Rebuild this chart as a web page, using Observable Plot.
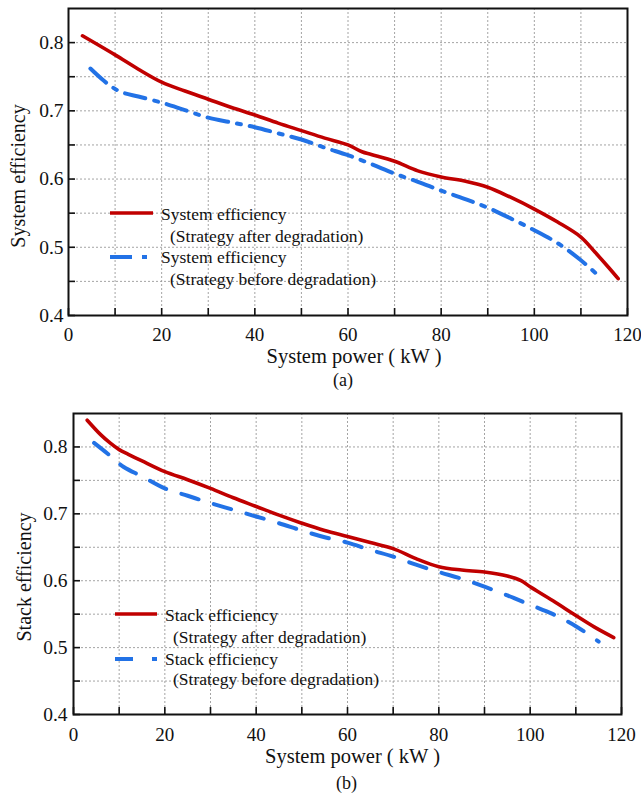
<!DOCTYPE html>
<html><head><meta charset="utf-8">
<script src="https://cdn.jsdelivr.net/npm/d3@7"></script>
<script src="https://cdn.jsdelivr.net/npm/@observablehq/plot@0.6"></script>
<style>
body{margin:0;background:#fff;}
#wrap{position:relative;width:641px;height:801px;overflow:hidden;font-family:"Liberation Serif","Times New Roman",serif;background:#fff;}
.panel{position:absolute;left:0;}
.lg{position:absolute;font-size:17.5px;line-height:1;white-space:nowrap;color:#111;}
.lgl{position:absolute;}
</style></head><body><div id="wrap"></div>
<script>
// ---- Data ----
// Panel (a): system efficiency vs system power (kW)
const sysAfterX  = [3, 10, 15, 20, 25, 30, 35, 40, 45, 50, 55, 60, 63, 65, 70, 75, 80, 85, 90, 95, 100, 105, 110, 113, 116, 118];
const sysAfterY  = [0.810, 0.782, 0.761, 0.742, 0.729, 0.717, 0.705, 0.694, 0.682, 0.671, 0.660, 0.650, 0.640, 0.636, 0.626, 0.612, 0.603, 0.597, 0.588, 0.573, 0.556, 0.537, 0.515, 0.493, 0.470, 0.454];
const sysBeforeX = [4.7, 7.6, 10, 12, 15, 20, 25, 30, 35, 40, 45, 50, 55, 60, 65, 70, 75, 80, 85, 90, 95, 100, 105, 110, 113.5];
const sysBeforeY = [0.762, 0.744, 0.732, 0.726, 0.721, 0.712, 0.701, 0.690, 0.683, 0.676, 0.667, 0.658, 0.646, 0.635, 0.622, 0.608, 0.596, 0.583, 0.571, 0.558, 0.542, 0.525, 0.506, 0.481, 0.460];
// Panel (b): stack efficiency vs system power (kW)
const stackAfterX  = [3, 6, 8, 10, 12, 15, 20, 25, 30, 35, 40, 45, 50, 55, 60, 65, 70, 75, 80, 85, 90, 95, 98, 100, 105, 110, 114, 118.3];
const stackAfterY  = [0.840, 0.818, 0.806, 0.796, 0.789, 0.779, 0.763, 0.751, 0.738, 0.724, 0.711, 0.698, 0.686, 0.675, 0.666, 0.657, 0.648, 0.633, 0.621, 0.616, 0.613, 0.607, 0.600, 0.591, 0.570, 0.548, 0.531, 0.515];
const stackBeforeX = [4.5, 8, 11, 15, 20, 25, 30, 35, 40, 45, 50, 55, 60, 65, 70, 75, 80, 85, 90, 95, 100, 105, 110, 115];
const stackBeforeY = [0.806, 0.787, 0.770, 0.756, 0.738, 0.727, 0.716, 0.706, 0.696, 0.686, 0.675, 0.665, 0.657, 0.646, 0.636, 0.624, 0.613, 0.603, 0.591, 0.578, 0.564, 0.550, 0.532, 0.509];
// Ticks
const xMajorTicks = [0, 20, 40, 60, 80, 100, 120];
const xMinorTicks = [0, 10, 20, 30, 40, 50, 60, 70, 80, 90, 100, 110, 120];
const yMajorTicks = [0.4, 0.5, 0.6, 0.7, 0.8];
const yMinorTicks = [0.4, 0.45, 0.5, 0.55, 0.6, 0.65, 0.7, 0.75, 0.8];
const xGrid = [10, 20, 30, 40, 50, 60, 70, 80, 90, 100, 110];
const yGrid = [0.45, 0.5, 0.55, 0.6, 0.65, 0.7, 0.75, 0.8];
// Labels
const xLabel = "System power ( kW )";
const panelTags = ["(a)", "(b)"];
const yLabels = ["System efficiency", "Stack efficiency"];
const legendNames = [["System efficiency", "(Strategy after degradation)", "System efficiency", "(Strategy before degradation)"],
                     ["Stack efficiency", "(Strategy after degradation)", "Stack efficiency", "(Strategy before degradation)"]];

const RED = "#c00000", BLUE = "#2272e6";
const zip = (xs, ys) => xs.map((x, i) => ({x, y: ys[i]}));

function panel(o) {
  return Plot.plot({
    width: 641, height: o.height,
    marginTop: o.mT, marginBottom: o.mB, marginLeft: o.mL, marginRight: o.mR,
    x: {domain: [0, 120], label: null},
    y: {domain: [0.4, 0.85], label: null},
    style: {fontFamily: '"Liberation Serif","Times New Roman",serif', fontSize: "19px", color: "#111", background: "white", overflow: "visible"},
    marks: [
      Plot.gridX(xGrid, {stroke: "#9a9a9a", strokeOpacity: 1, strokeWidth: 0.9, strokeDasharray: "2,2"}),
      Plot.gridY(yGrid, {stroke: "#9a9a9a", strokeOpacity: 1, strokeWidth: 0.9, strokeDasharray: "2,2"}),
      Plot.line(o.before, {x: "x", y: "y", stroke: BLUE, strokeWidth: 4, curve: "catmull-rom", strokeDasharray: o.dash}),
      Plot.line(o.after, {x: "x", y: "y", stroke: RED, strokeWidth: 3.6, curve: "catmull-rom"}),
      Plot.frame({stroke: "#111", strokeWidth: 2}),
      Plot.axisX(xMinorTicks, {tickSize: 7, dy: -7, strokeWidth: 1.6, tickFormat: () => "", label: null}),
      Plot.axisX(xMajorTicks, {tickSize: 0, tickPadding: o.xPad, fontSize: 19, label: null}),
      Plot.axisY(yMinorTicks, {tickSize: 7, dx: 7, strokeWidth: 1.6, tickFormat: () => "", label: null}),
      Plot.axisY(yMajorTicks, {tickSize: 0, tickPadding: o.yPad, fontSize: 19.5, tickFormat: d3.format(".1f"), label: null}),
      Plot.text([xLabel], {text: d => d, frameAnchor: "bottom", textAnchor: "middle", dx: o.xlDx, dy: o.xlDy, fontSize: 20.5, lineAnchor: "middle"}),
      Plot.text([o.yLabel], {text: d => d, frameAnchor: "left", textAnchor: "middle", rotate: -90, dx: o.ylDx, dy: o.ylDy, fontSize: 20, lineAnchor: "middle"}),
      Plot.text([o.tag], {text: d => d, frameAnchor: "bottom", textAnchor: "middle", dx: o.tagDx, dy: o.tagDy, fontSize: 18, lineAnchor: "middle"})
    ]
  });
}

const wrap = document.getElementById("wrap");
const top1 = panel({height: 392, mT: 8, mB: 77, mL: 68, mR: 14,
  after: zip(sysAfterX, sysAfterY), before: zip(sysBeforeX, sysBeforeY), dash: "21,9,4,9",
  xPad: 11.5, yPad: 5, xlDx: 6, xlDy: 41, ylDx: -50, ylDy: 14, tag: panelTags[0], tagDx: -5, tagDy: 65, yLabel: yLabels[0]});
top1.classList.add("panel"); top1.style.top = "0px";
wrap.appendChild(top1);

const bot = panel({height: 409, mT: 21, mB: 87, mL: 73, mR: 20,
  after: zip(stackAfterX, stackAfterY), before: zip(stackBeforeX, stackBeforeY), dash: "18,16",
  xPad: 13, yPad: 6, xlDx: 5, xlDy: 42, ylDx: -49, ylDy: 13, tag: panelTags[1], tagDx: -1, tagDy: 69, yLabel: yLabels[1]});
bot.classList.add("panel"); bot.style.top = "392px";
wrap.appendChild(bot);

// ---- Legends (overlay) ----
function legend(names, lx, lw, tx, tx2, rows, dash) {
  const mk = (y, color, sw, da) => {
    const s = `<svg class="lgl" style="left:${lx}px;top:${y - 5}px" width="${lw}" height="10"><line x1="0" x2="${lw}" y1="5" y2="5" stroke="${color}" stroke-width="${sw}" ${da ? `stroke-dasharray="${da}"` : ""}/></svg>`;
    wrap.insertAdjacentHTML("beforeend", s);
  };
  mk(rows[0] - 2, RED, 3.6, null);
  mk(rows[2] - 1, BLUE, 4, dash);
  const t = (x, y, s) => wrap.insertAdjacentHTML("beforeend", `<div class="lg" style="left:${x}px;top:${y - 9}px">${s}</div>`);
  t(tx, rows[0], names[0]); t(tx2, rows[1], names[1]); t(tx, rows[2], names[2]); t(tx2, rows[3], names[3]);
}
legend(legendNames[0], 110, 43, 161, 170, [215, 237, 258, 280], "22,10,5,10");
legend(legendNames[1], 115, 42, 165, 173, [616, 638, 660, 680], "18,19");
</script></body></html>
